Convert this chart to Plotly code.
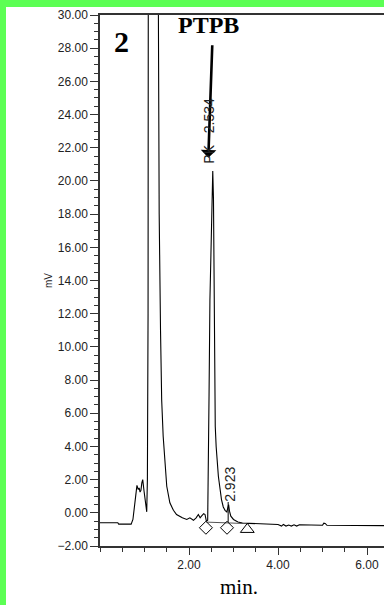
import plotly.graph_objects as go

# chromatogram trace (time in min, signal in mV)
time_min = [0.00, 0.40, 0.42, 0.70, 0.74, 0.77, 0.80, 0.83, 0.86, 0.88, 0.90, 0.92, 0.94, 0.96, 0.99, 1.02, 1.05,
            1.065, 1.08, 1.085, 1.10, 1.20, 1.29, 1.31, 1.315, 1.33, 1.36, 1.386, 1.42, 1.46, 1.50, 1.57, 1.65, 1.72,
            1.85, 1.95, 2.02, 2.10, 2.16, 2.21, 2.25, 2.28, 2.33, 2.36, 2.39, 2.42, 2.44, 2.45, 2.47, 2.49, 2.51,
            2.534, 2.55, 2.56, 2.57, 2.58, 2.59, 2.61, 2.63, 2.66, 2.70, 2.73, 2.77, 2.81, 2.85, 2.87, 2.89, 2.91,
            2.94, 3.00, 3.10, 3.20, 3.30, 3.60, 4.00, 4.08, 4.12, 4.18, 4.24, 4.30, 4.36, 4.42, 4.48, 4.60, 5.00,
            5.03, 5.06, 5.10, 5.50, 6.00, 6.40]
signal_mv = [-0.60, -0.60, -0.68, -0.68, -0.40, 0.30, 1.00, 1.65, 1.40, 1.50, 1.25, 1.35, 1.80, 2.00, 1.30, 0.50, 0.06,
             2.00, 12.0, 31.0, 45.0, 60.0, 45.0, 31.0, 26.0, 18.0, 11.0, 6.80, 4.60, 2.80, 1.60, 0.60, 0.15, -0.10,
             -0.30, -0.40, -0.30, -0.45, -0.30, -0.10, -0.30, -0.20, -0.05, -0.10, -0.50, -0.45, 3.00, 7.00, 12.8, 16.0, 19.0,
             20.6, 18.9, 14.0, 10.0, 6.80, 5.20, 4.00, 3.20, 2.20, 1.40, 0.80, 0.35, 0.15, 0.05, 0.30, 0.50, 0.10,
             -0.20, -0.40, -0.55, -0.62, -0.64, -0.66, -0.70, -0.80, -0.70, -0.80, -0.74, -0.80, -0.72, -0.80, -0.72, -0.72, -0.75,
             -0.62, -0.64, -0.75, -0.76, -0.77, -0.77]

# integration baseline and markers
base_x = [2.39, 3.30]
base_y = [-0.56, -0.65]
diamond_x = [2.38, 2.854]
diamond_y = [-0.90, -0.90]
triangle_x = [3.31]
triangle_y = [-1.00]

y_ticks = [-2, 0, 2, 4, 6, 8, 10, 12, 14, 16, 18, 20, 22, 24, 26, 28, 30]
y_labels = ["%.2f" % v if v >= 0 else "\u2212%.2f" % abs(v) for v in y_ticks]
x_ticks = [2, 4, 6]
x_labels = ["2.00", "4.00", "6.00"]

peak_label_1 = "PK   2.534"
peak_label_2 = "2.923"

fig = go.Figure()
fig.add_trace(go.Scatter(x=time_min, y=signal_mv, mode="lines",
                         line=dict(color="#000000", width=1.1), showlegend=False, hoverinfo="skip"))
fig.add_trace(go.Scatter(x=base_x, y=base_y, mode="lines",
                         line=dict(color="#555555", width=1), showlegend=False, hoverinfo="skip"))
fig.add_trace(go.Scatter(x=[2.88, 2.88], y=[-0.55, 0.65], mode="lines",
                         line=dict(color="#000000", width=1), showlegend=False, hoverinfo="skip"))
fig.add_trace(go.Scatter(x=diamond_x, y=diamond_y, mode="markers",
                         marker=dict(symbol="diamond-open", size=10, color="#000000", line=dict(width=1)),
                         showlegend=False, hoverinfo="skip", cliponaxis=False))
fig.add_trace(go.Scatter(x=triangle_x, y=triangle_y, mode="markers",
                         marker=dict(symbol="triangle-up-open", size=12, color="#000000", line=dict(width=1)),
                         showlegend=False, hoverinfo="skip", cliponaxis=False))

sans = "Liberation Sans, Arial, sans-serif"
serif = "Liberation Serif, Times New Roman, serif"

fig.update_layout(
    width=384, height=605,
    margin=dict(l=100, r=0, t=15, b=59, pad=0),
    paper_bgcolor="#ffffff", plot_bgcolor="#ffffff",
    xaxis=dict(range=[0, 6.382], showgrid=False, zeroline=False,
               showline=True, linecolor="#333333", linewidth=1.5, mirror=True,
               ticks="outside", ticklen=7, tickwidth=1.2, tickcolor="#333333",
               tickmode="array", tickvals=x_ticks, ticktext=x_labels,
               tickfont=dict(family=sans, size=12, color="#222222"),
               minor=dict(ticks="outside", ticklen=4, tickwidth=1.2, tickcolor="#333333",
                          tick0=0, dtick=0.5)),
    yaxis=dict(range=[-2, 30], showgrid=False, zeroline=False,
               showline=True, linecolor="#333333", linewidth=1.5, mirror=False,
               ticks="outside", ticklen=8, tickwidth=1.2, tickcolor="#333333",
               tickmode="array", tickvals=y_ticks, ticktext=y_labels,
               tickfont=dict(family=sans, size=12, color="#222222"),
               minor=dict(ticks="outside", ticklen=4, tickwidth=1, tickcolor="#333333",
                          tick0=0, dtick=0.5)),
    shapes=[
        dict(type="rect", xref="paper", yref="paper", x0=-100/284, x1=-94/284,
             y0=-59/531, y1=1 + 15/531, fillcolor="#5cff54", line=dict(width=0), layer="above"),
        dict(type="rect", xref="paper", yref="paper", x0=-100/284, x1=1.0,
             y0=1 + 8/531, y1=1 + 15/531, fillcolor="#5cff54", line=dict(width=0), layer="above"),
    ],
    annotations=[
        dict(x=0.483, y=28.39, xref="x", yref="y", text="<b>2</b>", showarrow=False,
             font=dict(family=serif, size=30, color="#000000")),
        dict(x=2.443, y=29.39, xref="x", yref="y", text="<b>PTPB</b>", showarrow=False,
             font=dict(family=serif, size=24, color="#000000")),
        dict(x=2.434, y=21.4, xref="x", yref="y", ax=2.524, ay=28.27, axref="x", ayref="y",
             text="", showarrow=True, arrowhead=1, arrowsize=1, arrowwidth=2.6, arrowcolor="#000000"),
        dict(x=2.449, y=23.03, xref="x", yref="y", text=peak_label_1, showarrow=False, textangle=-90,
             font=dict(family=sans, size=14, color="#222222")),
        dict(x=2.904, y=1.70, xref="x", yref="y", text=peak_label_2, showarrow=False, textangle=-90,
             font=dict(family=sans, size=14, color="#222222")),
        dict(x=-52/284, y=265/531, xref="paper", yref="paper", text="mV", showarrow=False, textangle=-90,
             xanchor="center", yanchor="middle",
             font=dict(family=sans, size=10, color="#222222")),
        dict(x=138.5/284, y=-41/531, xref="paper", yref="paper", text="min.", showarrow=False,
             xanchor="center", yanchor="middle",
             font=dict(family=serif, size=21, color="#000000")),
    ],
)

fig.write_html("out.html", config={"displayModeBar": False})
